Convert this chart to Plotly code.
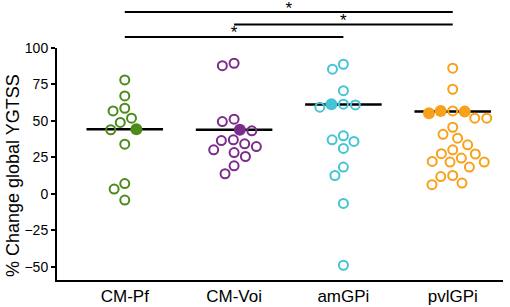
import math
import plotly.graph_objects as go

categories = ["CM-Pf", "CM-Voi", "amGPi", "pvlGPi"]
y_ticks = [-50, -25, 0, 25, 50, 75, 100]
y_title = "% Change global YGTSS"

cm_pf_open = [77.9, 66.9, 58.5, 56.7, 51.7, 48.8, 43.8, 33.9, 7.0, 3.2, -4.3]
cm_pf_filled = [44.2]
cm_voi_open = [89.3, 87.6, 51.0, 49.4, 43.1, 36.9, 36.4, 34.2, 32.3, 30.1, 28.2, 25.5, 19.1, 13.7]
cm_voi_filled = [43.8]
amgpi_open = [88.6, 85.2, 70.5, 61.3, 60.8, 59.2, 39.7, 36.9, 35.8, 31.0, 18.3, 12.5, -6.6, -48.9]
amgpi_filled = [61.3]
pvlgpi_open = [85.9, 71.5, 56.7, 51.7, 51.7, 45.5, 40.7, 38.0, 33.5, 30.1, 27.4, 27.2,
               24.4, 22.1, 21.7, 21.7, 18.3, 12.5, 11.8, 7.3, 6.2]
pvlgpi_filled = [56.7, 56.2, 55.1]
group_medians = [44.2, 43.8, 61.0, 56.2]

# significance comparisons: (from group, to group, stacking level)
sig_pairs = [(0, 3, 3), (1, 3, 2), (0, 2, 1)]
sig_labels = ["*", "*", "*"]

colors = ["#4b8a1b", "#7b2d8b", "#44c4d5", "#f8a11a"]
open_sets = [cm_pf_open, cm_voi_open, amgpi_open, pvlgpi_open]
filled_sets = [cm_pf_filled, cm_voi_filled, amgpi_filled, pvlgpi_filled]

# layout geometry
W, H = 510, 307
ML, MR, MT, MB = 57, 7, 0, 27
X_RANGE = [-0.62, 3.46]
Y_RANGE = [-59, 100]
MAIN_TOP = 0.83
px_x = (W - ML - MR) / (X_RANGE[1] - X_RANGE[0])
px_y = (H - MT - MB) * MAIN_TOP / (Y_RANGE[1] - Y_RANGE[0])
D = 12.0  # marker spacing in px


def beeswarm(values):
    """Horizontal offsets (axis units) so markers do not overlap."""
    order = sorted(range(len(values)), key=lambda i: -values[i])
    placed = []
    offs = [0.0] * len(values)
    for i in order:
        yv = values[i] * px_y
        cands = [0.0]
        for (px, py) in placed:
            dy = abs(yv - py)
            if dy < D:
                dx = math.sqrt(D * D - dy * dy)
                cands += [px + dx, px - dx]
        cands.sort(key=lambda c: (abs(c), c))
        for c in cands:
            ok = all((c - px) ** 2 + (yv - py) ** 2 >= D * D - 1e-6 for (px, py) in placed)
            if ok:
                placed.append((c, yv))
                offs[i] = c / px_x
                break
    return offs


fig = go.Figure()

for g, cat in enumerate(categories):
    fig.add_trace(go.Scatter(
        x=[g - 0.35, g + 0.35], y=[group_medians[g]] * 2, mode="lines",
        line=dict(color="black", width=2.5), showlegend=False, hoverinfo="skip"))

for g, cat in enumerate(categories):
    vals = open_sets[g] + filled_sets[g]
    offs = beeswarm(vals)
    n_open = len(open_sets[g])
    fig.add_trace(go.Scatter(
        x=[g + o for o in offs[:n_open]], y=open_sets[g], mode="markers",
        marker=dict(symbol="circle-open", size=9, color=colors[g],
                    line=dict(width=2, color=colors[g])),
        showlegend=False, cliponaxis=False))
    fig.add_trace(go.Scatter(
        x=[g + o for o in offs[n_open:]], y=filled_sets[g], mode="markers",
        marker=dict(symbol="circle", size=12, color=colors[g]),
        showlegend=False, cliponaxis=False))

for (a, b, lvl), lab in zip(sig_pairs, sig_labels):
    fig.add_trace(go.Scatter(
        x=[a, b], y=[lvl, lvl], xaxis="x", yaxis="y2", mode="lines",
        line=dict(color="black", width=2), showlegend=False, hoverinfo="skip"))
    fig.add_trace(go.Scatter(
        x=[(a + b) / 2], y=[lvl + 0.22], xaxis="x", yaxis="y2", mode="text",
        text=[lab], textposition="middle center",
        textfont=dict(size=17, color="black", family="Liberation Sans"),
        showlegend=False, cliponaxis=False))

fig.add_annotation(
    text=y_title, textangle=-90, xref="paper", yref="paper",
    x=(13 - ML) / (W - ML - MR), y=(H - MB - 176) / (H - MT - MB),
    xanchor="center", yanchor="middle", showarrow=False,
    font=dict(size=18, color="black"))

fig.update_layout(
    width=W, height=H,
    margin=dict(l=ML, r=MR, t=MT, b=MB),
    plot_bgcolor="white", paper_bgcolor="white",
    font=dict(family="Liberation Sans, Arial, sans-serif", color="black"),
    xaxis=dict(range=X_RANGE, tickmode="array", tickvals=list(range(len(categories))),
               ticktext=categories, showline=True, linecolor="black", linewidth=2,
               ticks="", showgrid=False, zeroline=False, tickfont=dict(size=17),
               automargin=False),
    yaxis=dict(domain=[0, MAIN_TOP], range=Y_RANGE, tickmode="array", tickvals=y_ticks,
               showline=True, linecolor="black", linewidth=2, ticks="outside",
               ticklen=4, tickwidth=2, tickcolor="black", showgrid=False, zeroline=False,
               tickfont=dict(size=14), automargin=False),
    yaxis2=dict(domain=[MAIN_TOP, 1], range=[0.15, 3.96], anchor="x", visible=False),
)

fig.write_html("out.html", config={"displayModeBar": False},
               post_script="document.body.style.margin='0';document.body.style.overflow='hidden';")
